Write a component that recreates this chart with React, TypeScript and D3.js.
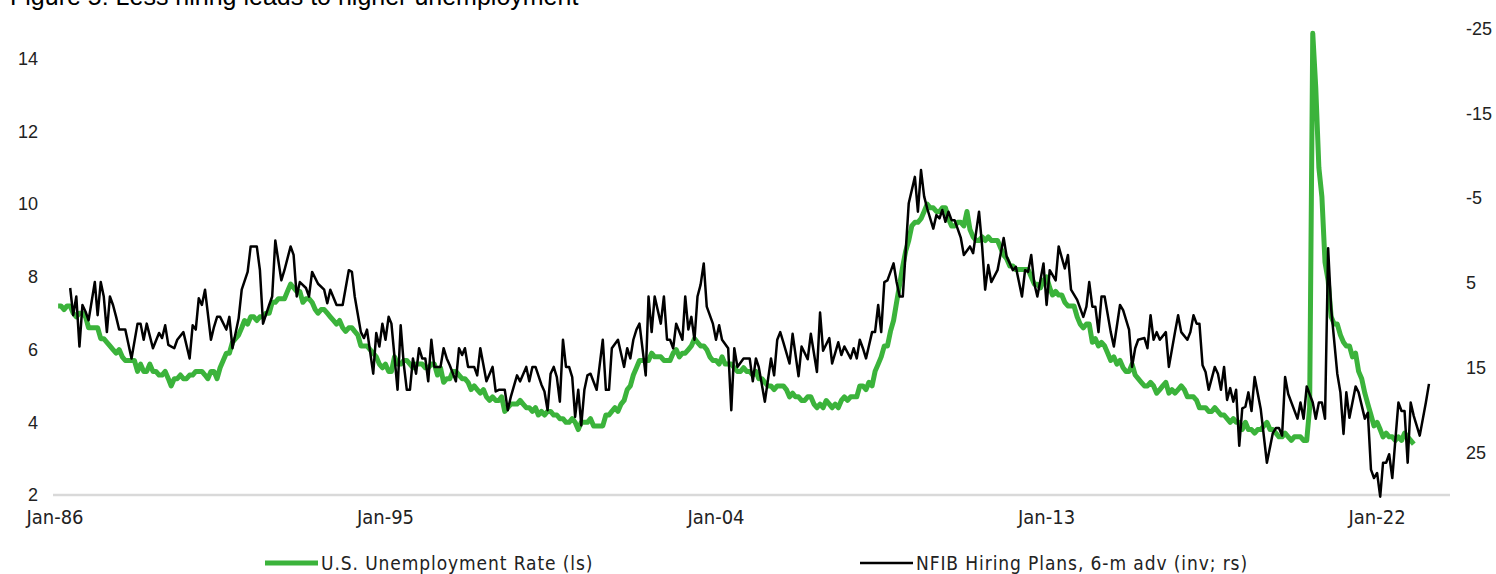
import React, { useEffect, useRef } from 'react';
import * as d3 from 'd3';

// U.S. unemployment rate, monthly from Feb-86 (left axis)
const unempStart = '1986-02';
const unempRate = [
  7.2, 7.2, 7.1, 7.2, 7.2, 7.0, 6.9, 7.0, 7.0, 6.9, 6.6,
  6.6, 6.6, 6.6, 6.3, 6.3, 6.2, 6.1, 6.0, 5.9, 6.0, 5.8, 5.7,
  5.7, 5.7, 5.7, 5.4, 5.6, 5.4, 5.4, 5.6, 5.4, 5.4, 5.3, 5.3,
  5.4, 5.2, 5.0, 5.2, 5.2, 5.3, 5.2, 5.2, 5.3, 5.3, 5.4, 5.4,
  5.4, 5.3, 5.2, 5.4, 5.4, 5.2, 5.5, 5.7, 5.9, 5.9, 6.2, 6.3,
  6.4, 6.6, 6.8, 6.7, 6.9, 6.9, 6.8, 6.9, 6.9, 7.0, 7.0, 7.3,
  7.3, 7.4, 7.4, 7.4, 7.6, 7.8, 7.7, 7.6, 7.6, 7.3, 7.4, 7.4,
  7.3, 7.1, 7.0, 7.1, 7.1, 7.0, 6.9, 6.8, 6.7, 6.8, 6.6, 6.5,
  6.6, 6.6, 6.5, 6.4, 6.1, 6.1, 6.1, 6.0, 5.9, 5.8, 5.6, 5.5,
  5.6, 5.4, 5.4, 5.8, 5.6, 5.6, 5.7, 5.7, 5.6, 5.5, 5.6, 5.6,
  5.6, 5.5, 5.5, 5.6, 5.6, 5.3, 5.5, 5.1, 5.2, 5.2, 5.4, 5.4,
  5.3, 5.2, 5.2, 5.1, 4.9, 5.0, 4.9, 4.8, 4.9, 4.7, 4.6, 4.7,
  4.6, 4.6, 4.7, 4.3, 4.4, 4.5, 4.5, 4.5, 4.6, 4.5, 4.4, 4.4,
  4.3, 4.4, 4.2, 4.3, 4.2, 4.3, 4.3, 4.2, 4.2, 4.1, 4.1, 4.0,
  4.0, 4.1, 4.0, 3.8, 4.0, 4.0, 4.0, 4.1, 3.9, 3.9, 3.9, 3.9,
  4.2, 4.2, 4.3, 4.4, 4.3, 4.5, 4.6, 4.9, 5.0, 5.3, 5.5, 5.7,
  5.7, 5.7, 5.7, 5.9, 5.8, 5.8, 5.8, 5.7, 5.7, 5.7, 5.9, 6.0,
  5.8, 5.9, 5.9, 6.0, 6.1, 6.3, 6.2, 6.1, 6.1, 6.0, 5.8, 5.7,
  5.7, 5.6, 5.8, 5.6, 5.6, 5.6, 5.5, 5.4, 5.4, 5.5, 5.4, 5.4,
  5.3, 5.4, 5.2, 5.2, 5.1, 5.0, 5.0, 4.9, 5.0, 5.0, 5.0, 4.9,
  4.7, 4.8, 4.7, 4.7, 4.6, 4.6, 4.7, 4.7, 4.5, 4.4, 4.5, 4.4,
  4.6, 4.5, 4.4, 4.5, 4.4, 4.6, 4.7, 4.6, 4.7, 4.7, 4.7, 5.0,
  5.0, 4.9, 5.1, 5.0, 5.4, 5.6, 5.8, 6.1, 6.1, 6.5, 6.8, 7.3,
  7.8, 8.3, 8.7, 9.0, 9.4, 9.5, 9.5, 9.6, 9.8, 10.0, 9.9, 9.9,
  9.8, 9.8, 9.9, 9.9, 9.6, 9.4, 9.4, 9.5, 9.5, 9.4, 9.8, 9.3,
  9.1, 9.0, 9.0, 9.1, 9.0, 9.1, 9.0, 9.0, 9.0, 8.8, 8.6, 8.5,
  8.3, 8.3, 8.2, 8.2, 8.2, 8.2, 8.2, 8.0, 7.8, 7.8, 7.7, 7.9,
  8.0, 7.7, 7.5, 7.6, 7.5, 7.5, 7.3, 7.2, 7.2, 7.2, 6.9, 6.7,
  6.6, 6.7, 6.7, 6.2, 6.3, 6.1, 6.2, 6.1, 5.9, 5.7, 5.8, 5.6,
  5.7, 5.5, 5.4, 5.4, 5.6, 5.3, 5.2, 5.1, 5.0, 5.0, 5.1, 5.0,
  4.8, 4.9, 5.0, 5.1, 4.8, 4.9, 4.8, 4.9, 5.0, 4.9, 4.7, 4.7,
  4.7, 4.6, 4.4, 4.4, 4.4, 4.3, 4.3, 4.4, 4.3, 4.2, 4.2, 4.1,
  4.0, 4.1, 4.0, 4.0, 3.8, 4.0, 3.8, 3.8, 3.7, 3.8, 3.8, 3.9,
  4.0, 3.8, 3.8, 3.7, 3.6, 3.6, 3.7, 3.6, 3.5, 3.6, 3.6, 3.6,
  3.5, 3.5, 4.4, 14.7, 13.2, 11.0, 10.2, 8.4, 7.9, 6.9, 6.7, 6.7,
  6.4, 6.2, 6.1, 6.1, 5.8, 5.9, 5.4, 5.2, 4.8, 4.5, 4.2, 3.9,
  4.0, 3.8, 3.6, 3.7, 3.6, 3.6, 3.5, 3.6, 3.5, 3.7, 3.6, 3.5,
  3.4,
];

// NFIB hiring plans, 6-month advanced (right axis, inverted)
const hiringPlans: [string, number][] = [
  ['1986-06', 5.6], ['1986-07', 8.8], ['1986-08', 6.6], ['1986-09', 12.5], ['1986-10', 7.6], ['1986-11', 8.4], ['1986-12', 9.4],
  ['1987-02', 4.9], ['1987-03', 8.8], ['1987-04', 4.9], ['1987-05', 6.6], ['1987-06', 10.8], ['1987-07', 6.6], ['1987-08', 7.6], ['1987-09', 9.0], ['1987-10', 10.5], ['1987-12', 10.5],
  ['1988-02', 13.9], ['1988-04', 9.8], ['1988-05', 9.8], ['1988-06', 11.7], ['1988-07', 9.8], ['1988-09', 12.7], ['1988-11', 10.9], ['1988-12', 11.5],
  ['1989-01', 10.0], ['1989-02', 12.3], ['1989-04', 12.7], ['1989-05', 11.7], ['1989-07', 10.8], ['1989-09', 13.9], ['1989-10', 10.0], ['1989-11', 10.5], ['1989-12', 6.8],
  ['1990-01', 7.6], ['1990-02', 5.8], ['1990-04', 11.7], ['1990-05', 10.2], ['1990-06', 9.0], ['1990-07', 9.0], ['1990-09', 10.5], ['1990-10', 9.0], ['1990-11', 12.7],
  ['1991-01', 9.2], ['1991-02', 5.8], ['1991-04', 3.7], ['1991-05', 0.7], ['1991-07', 0.7], ['1991-08', 3.5], ['1991-09', 9.8], ['1991-11', 7.6], ['1991-12', 6.6],
  ['1992-01', 0.0], ['1992-03', 4.7], ['1992-04', 3.5], ['1992-06', 0.7], ['1992-07', 1.7], ['1992-08', 6.6], ['1992-09', 4.9], ['1992-11', 5.6], ['1992-12', 6.6],
  ['1993-01', 3.7], ['1993-03', 5.1], ['1993-05', 5.8], ['1993-06', 7.4], ['1993-07', 5.8], ['1993-09', 7.6], ['1993-11', 7.6],
  ['1994-01', 3.5], ['1994-02', 3.7], ['1994-03', 6.6], ['1994-05', 10.8], ['1994-06', 11.5], ['1994-07', 10.5], ['1994-09', 15.7], ['1994-10', 10.9], ['1994-11', 12.5], ['1994-12', 9.8],
  ['1995-01', 11.7], ['1995-02', 9.0], ['1995-03', 9.8], ['1995-05', 17.6], ['1995-06', 10.0], ['1995-07', 14.5], ['1995-08', 17.6], ['1995-09', 17.6], ['1995-10', 13.9], ['1995-11', 15.7], ['1995-12', 12.7],
  ['1996-01', 13.9], ['1996-02', 13.9], ['1996-03', 16.6], ['1996-04', 11.7], ['1996-05', 14.9], ['1996-07', 14.9], ['1996-08', 12.7], ['1996-09', 13.9], ['1996-10', 14.7], ['1996-12', 16.6],
  ['1997-01', 12.7], ['1997-02', 13.5], ['1997-03', 12.7], ['1997-04', 14.9], ['1997-06', 14.9], ['1997-07', 15.9], ['1997-08', 12.7], ['1997-10', 16.6], ['1997-12', 14.9],
  ['1998-01', 17.8], ['1998-02', 17.6], ['1998-04', 17.6], ['1998-05', 20.0], ['1998-06', 18.4], ['1998-08', 15.9], ['1998-09', 16.6], ['1998-11', 14.9], ['1998-12', 16.6],
  ['1999-01', 14.9], ['1999-02', 14.9], ['1999-04', 17.0], ['1999-05', 17.8], ['1999-06', 20.0], ['1999-07', 15.7], ['1999-08', 14.9], ['1999-09', 16.1], ['1999-10', 19.0], ['1999-11', 11.7], ['1999-12', 14.9],
  ['2000-01', 14.9], ['2000-02', 16.1], ['2000-03', 20.8], ['2000-04', 17.6], ['2000-05', 21.8], ['2000-06', 17.6], ['2000-07', 15.9], ['2000-08', 15.7], ['2000-10', 17.6], ['2000-12', 11.7],
  ['2001-01', 17.6], ['2001-02', 17.6], ['2001-03', 12.7], ['2001-05', 11.7], ['2001-07', 14.9], ['2001-08', 12.7], ['2001-09', 13.9], ['2001-10', 11.7], ['2001-11', 10.5], ['2001-12', 9.8],
  ['2002-02', 15.9], ['2002-03', 6.6], ['2002-04', 10.8], ['2002-05', 6.6], ['2002-07', 9.8], ['2002-08', 6.6], ['2002-09', 11.7], ['2002-10', 11.7], ['2002-11', 12.7], ['2002-12', 9.8],
  ['2003-02', 11.7], ['2003-03', 6.6], ['2003-04', 10.5], ['2003-05', 9.0], ['2003-06', 11.7], ['2003-07', 6.6], ['2003-08', 5.2], ['2003-09', 2.7], ['2003-10', 7.8], ['2003-12', 9.8],
  ['2004-01', 11.7], ['2004-02', 10.0], ['2004-03', 11.7], ['2004-05', 12.7], ['2004-06', 20.0], ['2004-07', 12.7], ['2004-08', 14.9], ['2004-10', 13.9], ['2004-12', 13.9],
  ['2005-01', 16.6], ['2005-02', 13.9], ['2005-03', 14.9], ['2005-05', 19.0], ['2005-07', 13.9], ['2005-08', 15.9], ['2005-09', 11.7], ['2005-10', 10.8], ['2005-11', 12.0],
  ['2006-01', 14.5], ['2006-02', 11.0], ['2006-04', 16.0], ['2006-05', 12.5], ['2006-07', 14.0], ['2006-08', 11.0], ['2006-10', 15.5], ['2006-11', 8.5], ['2006-12', 13.0],
  ['2007-02', 11.5], ['2007-03', 14.5], ['2007-05', 12.0], ['2007-06', 13.5], ['2007-07', 12.5], ['2007-09', 13.9], ['2007-10', 12.7], ['2007-11', 13.9], ['2007-12', 11.7],
  ['2008-01', 12.7], ['2008-02', 13.9], ['2008-04', 10.8], ['2008-05', 10.8], ['2008-06', 7.6], ['2008-07', 10.8], ['2008-08', 4.9], ['2008-09', 4.7], ['2008-11', 2.7], ['2008-12', 4.9],
  ['2009-01', 6.6], ['2009-02', 6.6], ['2009-04', -4.4], ['2009-06', -7.5], ['2009-07', -3.4], ['2009-08', -8.3], ['2009-09', -5.2], ['2009-10', -3.8], ['2009-12', -1.4],
  ['2010-01', -3.0], ['2010-02', -2.6], ['2010-03', -3.6], ['2010-04', -2.2], ['2010-05', -3.4], ['2010-06', -2.4], ['2010-07', -2.4], ['2010-09', -0.3], ['2010-10', 1.7], ['2010-12', 0.7],
  ['2011-01', 1.5], ['2011-03', -3.4], ['2011-04', 0.7], ['2011-05', 5.8], ['2011-06', 2.9], ['2011-07', 4.9], ['2011-09', 3.5], ['2011-11', -0.3], ['2011-12', 1.9],
  ['2012-01', 2.7], ['2012-02', 3.5], ['2012-03', 3.1], ['2012-05', 6.6], ['2012-06', 3.5], ['2012-07', 3.7], ['2012-08', 1.7], ['2012-09', 5.1], ['2012-10', 6.6], ['2012-12', 2.7],
  ['2013-01', 7.6], ['2013-02', 3.5], ['2013-04', 4.7], ['2013-05', 0.7], ['2013-07', 3.3], ['2013-08', 1.7], ['2013-09', 5.8], ['2013-11', 7.0],
  ['2014-01', 9.0], ['2014-02', 7.8], ['2014-03', 4.9], ['2014-04', 7.8], ['2014-05', 7.8], ['2014-06', 10.8], ['2014-07', 6.6], ['2014-08', 6.6], ['2014-10', 10.8], ['2014-11', 12.5],
  ['2015-01', 7.6], ['2015-02', 8.2], ['2015-04', 10.5], ['2015-05', 14.9], ['2015-06', 12.7], ['2015-07', 11.7], ['2015-09', 11.5], ['2015-10', 12.7], ['2015-11', 8.8], ['2015-12', 11.7],
  ['2016-01', 10.8], ['2016-02', 11.7], ['2016-04', 10.8], ['2016-05', 14.9], ['2016-07', 10.8], ['2016-08', 8.8], ['2016-09', 10.8], ['2016-11', 11.7], ['2016-12', 10.8],
  ['2017-01', 8.8], ['2017-02', 9.8], ['2017-03', 9.8], ['2017-04', 14.7], ['2017-05', 15.5], ['2017-06', 17.6], ['2017-08', 14.9], ['2017-09', 15.7], ['2017-10', 17.6], ['2017-11', 14.9], ['2017-12', 18.8],
  ['2018-01', 17.4], ['2018-02', 19.0], ['2018-03', 17.6], ['2018-04', 24.2], ['2018-05', 19.8], ['2018-06', 19.6], ['2018-07', 17.9], ['2018-08', 20.1], ['2018-09', 16.1], ['2018-11', 19.9],
  ['2019-01', 26.2], ['2019-03', 22.7], ['2019-04', 22.1], ['2019-05', 22.1], ['2019-06', 23.0], ['2019-07', 16.1], ['2019-08', 18.1], ['2019-11', 21.0], ['2019-12', 19.1],
  ['2020-01', 21.0], ['2020-02', 17.2], ['2020-04', 19.1], ['2020-05', 21.0], ['2020-06', 19.1], ['2020-07', 19.1], ['2020-08', 21.0], ['2020-09', 0.9], ['2020-10', 8.0], ['2020-12', 15.7],
  ['2021-01', 17.9], ['2021-02', 22.8], ['2021-03', 17.9], ['2021-04', 20.9], ['2021-06', 17.2], ['2021-07', 17.9], ['2021-09', 21.0], ['2021-10', 20.3], ['2021-11', 27.0], ['2021-12', 28.0],
  ['2022-01', 27.4], ['2022-02', 30.2], ['2022-03', 26.2], ['2022-04', 26.2], ['2022-05', 25.2], ['2022-06', 28.0], ['2022-07', 23.6], ['2022-08', 19.1], ['2022-09', 20.1], ['2022-10', 20.1], ['2022-11', 26.2], ['2022-12', 19.1],
  ['2023-01', 20.7], ['2023-03', 23.0], ['2023-05', 19.1], ['2023-06', 16.9],
];

const leftTicks = [2, 4, 6, 8, 10, 12, 14];
const rightTicks = [-25, -15, -5, 5, 15, 25];
const xTickLabels = ['1986-01', '1995-01', '2004-01', '2013-01', '2022-01'];

const title = 'Figure 5: Less hiring leads to higher unemployment';
const legendItems = [
  { label: 'U.S. Unemployment Rate (ls)', color: '#3bb33b', width: 5 },
  { label: 'NFIB Hiring Plans, 6-m adv (inv; rs)', color: '#000000', width: 2.5 },
];

const W = 1496;
const H = 574;
const narrow = "'Liberation Sans Narrow', 'DejaVu Sans Condensed', 'Liberation Sans', sans-serif";
const plain = "'Liberation Sans', Arial, sans-serif";

const App = () => {
  const svgRef = useRef(null);

  useEffect(() => {
    const svg = d3.select(svgRef.current);
    svg.selectAll('*').remove();

    const parse = d3.timeParse('%Y-%m');

    const x = d3.scaleTime()
      .domain([new Date(1986, 0, 1), new Date(2024, 0, 1)])
      .range([55, 1450.5]);
    const yL = d3.scaleLinear().domain([2, 16]).range([495, -14]);
    const yR = d3.scaleLinear().domain([-30, 30]).range([-14, 495]);

    const start = parse(unempStart);
    const unemp = unempRate.map((v, i) => ({ date: d3.timeMonth.offset(start, i), value: v }));
    const hiring = hiringPlans.map(([d, v]) => ({ date: parse(d), value: v }));

    // Title (cropped at top in original)
    svg.append('text')
      .attr('x', 10)
      .attr('y', 5)
      .attr('font-family', plain)
      .attr('font-size', 25)
      .attr('fill', '#000')
      .text(title);

    // Baseline
    svg.append('line')
      .attr('x1', 53).attr('x2', 1450)
      .attr('y1', yL(2)).attr('y2', yL(2))
      .attr('stroke', '#d9d9d9')
      .attr('stroke-width', 2.5);

    // Left axis labels
    svg.append('g').selectAll('text')
      .data(leftTicks)
      .enter().append('text')
      .attr('x', 38)
      .attr('y', d => yL(d))
      .attr('dy', '0.35em')
      .attr('text-anchor', 'end')
      .attr('font-family', plain)
      .attr('font-size', 18)
      .attr('fill', '#222')
      .text(d => d);

    // Right axis labels
    svg.append('g').selectAll('text')
      .data(rightTicks)
      .enter().append('text')
      .attr('x', 1466)
      .attr('y', d => yR(d))
      .attr('dy', '0.35em')
      .attr('font-family', plain)
      .attr('font-size', 18)
      .attr('fill', '#222')
      .text(d => d);

    // X labels
    const fmt = d3.timeFormat('%b-%y');
    svg.append('g').selectAll('text')
      .data(xTickLabels)
      .enter().append('text')
      .attr('x', d => x(parse(d)))
      .attr('y', 517)
      .attr('dy', '0.35em')
      .attr('text-anchor', 'middle')
      .attr('font-family', narrow)
      .attr('font-size', 20)
      .attr('fill', '#222')
      .text(d => fmt(parse(d)));

    // Unemployment line
    svg.append('path')
      .datum(unemp)
      .attr('fill', 'none')
      .attr('stroke', legendItems[0].color)
      .attr('stroke-width', legendItems[0].width)
      .attr('stroke-linejoin', 'round')
      .attr('d', d3.line().x(d => x(d.date)).y(d => yL(d.value)));

    // Hiring plans line
    svg.append('path')
      .datum(hiring)
      .attr('fill', 'none')
      .attr('stroke', legendItems[1].color)
      .attr('stroke-width', legendItems[1].width)
      .attr('stroke-linejoin', 'round')
      .attr('d', d3.line().x(d => x(d.date)).y(d => yR(d.value)));

    // Legend
    const legendX = [265, 860];
    const lg = svg.append('g').selectAll('g')
      .data(legendItems)
      .enter().append('g')
      .attr('transform', (d, i) => `translate(${legendX[i]},563)`);
    lg.append('line')
      .attr('x1', 0).attr('x2', 53)
      .attr('stroke', d => d.color)
      .attr('stroke-width', d => d.width);
    lg.append('text')
      .attr('x', 56)
      .attr('dy', '0.35em')
      .attr('font-family', narrow)
      .attr('font-size', 19)
      .attr('letter-spacing', 0.9)
      .attr('fill', '#222')
      .text(d => d.label);
  }, []);

  return (
    <div style={{ position: 'absolute', left: 0, top: 0, width: W, height: H, background: '#fff' }}>
      <svg ref={svgRef} width={W} height={H}></svg>
    </div>
  );
};

export default App;
